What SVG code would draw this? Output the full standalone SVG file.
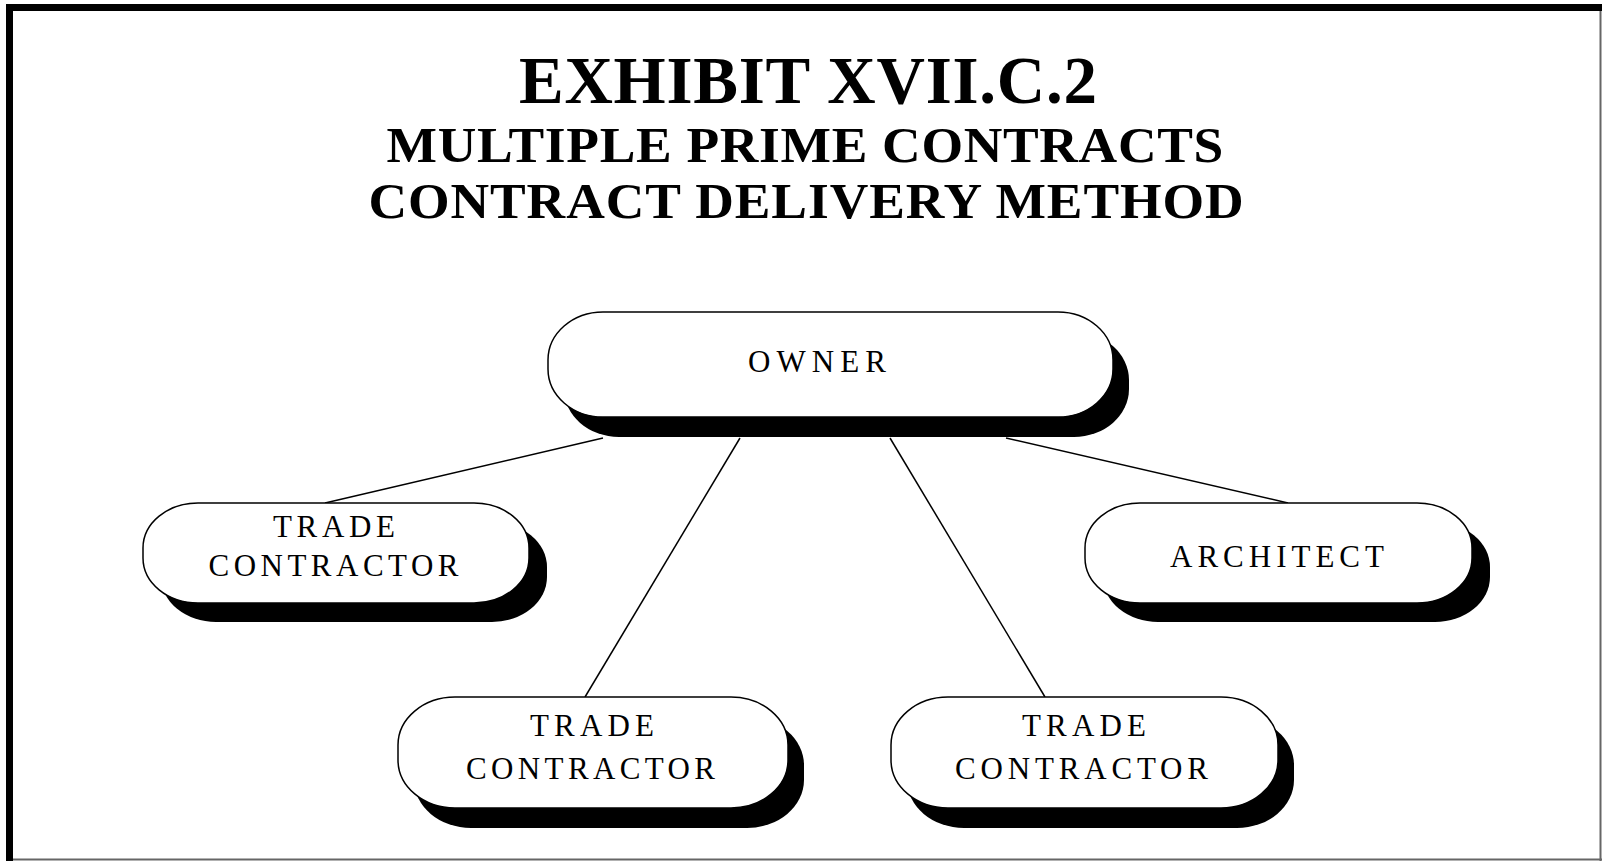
<svg xmlns="http://www.w3.org/2000/svg" width="1602" height="861" viewBox="0 0 1602 861">
<style>
.title{font-family:"Liberation Serif","Times New Roman",serif;font-weight:bold;fill:#000;text-anchor:middle}
.lbl{font-family:"Liberation Serif","Times New Roman",serif;font-size:31px;fill:#000;text-anchor:middle}
.pill{fill:#fff;stroke:#000;stroke-width:1.5}
.shadow{fill:#000}
.conn line{stroke:#000;stroke-width:1.5}
</style>
<rect width="1602" height="861" fill="#fff"/>
<rect x="6" y="4" width="1596" height="7" fill="#000"/>
<rect x="6" y="4" width="7" height="857" fill="#000"/>
<line x1="1600.5" y1="11" x2="1600.5" y2="861" stroke="#666" stroke-width="2"/>
<line x1="13" y1="859.5" x2="1602" y2="859.5" stroke="#666" stroke-width="2"/>

<g id="title">
<text class="title" x="808" y="103" font-size="67" textLength="578" lengthAdjust="spacing">EXHIBIT XVII.C.2</text>
<text class="title" transform="scale(1.07,1)" x="752.3" y="162" font-size="50" textLength="782" lengthAdjust="spacing">MULTIPLE PRIME CONTRACTS</text>
<text class="title" transform="scale(1.07,1)" x="753.3" y="218" font-size="50" textLength="818" lengthAdjust="spacing">CONTRACT DELIVERY METHOD</text>
</g>

<g id="connectors" class="conn">
<line x1="603" y1="438" x2="325" y2="503"/>
<line x1="740" y1="438" x2="585" y2="697"/>
<line x1="890" y1="438" x2="1045" y2="697"/>
<line x1="1006" y1="438" x2="1288" y2="503"/>
</g>

<g id="owner">
<rect class="shadow" x="564" y="332" width="565" height="105" rx="55" ry="48"/>
<rect class="pill" x="548" y="312" width="565" height="105" rx="55" ry="48"/>
<text class="lbl" x="817" y="372" textLength="138" lengthAdjust="spacing">OWNER</text>
</g>

<g id="trade-contractor-1">
<rect class="shadow" x="161" y="522" width="386" height="100" rx="55" ry="45"/>
<rect class="pill" x="143" y="503" width="386" height="100" rx="55" ry="45"/>
<text class="lbl" x="334" y="537" textLength="122" lengthAdjust="spacing">TRADE</text>
<text class="lbl" x="333.5" y="576" textLength="250" lengthAdjust="spacing">CONTRACTOR</text>
</g>

<g id="architect">
<rect class="shadow" x="1103" y="522" width="387" height="100" rx="55" ry="45"/>
<rect class="pill" x="1085" y="503" width="387" height="100" rx="55" ry="45"/>
<text class="lbl" x="1277" y="567" textLength="214" lengthAdjust="spacing">ARCHITECT</text>
</g>

<g id="trade-contractor-2">
<rect class="shadow" x="414" y="717" width="390" height="111" rx="57" ry="48"/>
<rect class="pill" x="398" y="697" width="390" height="111" rx="57" ry="48"/>
<text class="lbl" x="592" y="736" textLength="124" lengthAdjust="spacing">TRADE</text>
<text class="lbl" x="590.5" y="779" textLength="249" lengthAdjust="spacing">CONTRACTOR</text>
</g>

<g id="trade-contractor-3">
<rect class="shadow" x="907" y="717" width="387" height="111" rx="57" ry="48"/>
<rect class="pill" x="891" y="697" width="387" height="111" rx="57" ry="48"/>
<text class="lbl" x="1084" y="736" textLength="124" lengthAdjust="spacing">TRADE</text>
<text class="lbl" x="1081.5" y="779" textLength="253" lengthAdjust="spacing">CONTRACTOR</text>
</g>
</svg>
